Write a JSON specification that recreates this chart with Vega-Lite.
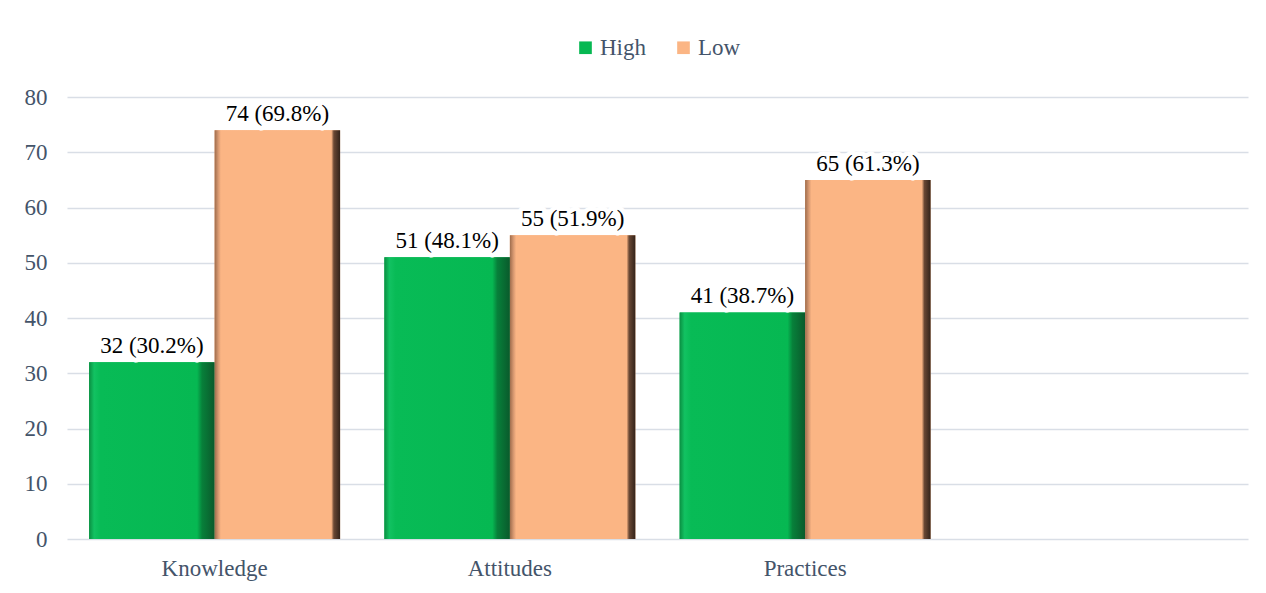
{
  "$schema": "https://vega.github.io/schema/vega-lite/v6.json",
  "autosize": {"type": "fit", "contains": "padding"},
  "width": 1266,
  "height": 593,
  "padding": {"left": 24, "top": 36, "right": 18, "bottom": 13},
  "background": "white",
  "data": {
    "values": [
      {"domain": "Knowledge", "level": "High", "count": 32, "label": "32 (30.2%)"},
      {"domain": "Knowledge", "level": "Low", "count": 74, "label": "74 (69.8%)"},
      {"domain": "Attitudes", "level": "High", "count": 51, "label": "51 (48.1%)"},
      {"domain": "Attitudes", "level": "Low", "count": 55, "label": "55 (51.9%)"},
      {"domain": "Practices", "level": "High", "count": 41, "label": "41 (38.7%)"},
      {"domain": "Practices", "level": "Low", "count": 65, "label": "65 (61.3%)"}
    ]
  },
  "encoding": {
    "x": {
      "field": "domain",
      "type": "nominal",
      "sort": null,
      "scale": {"domain": ["Knowledge", "Attitudes", "Practices", " "], "paddingInner": 0.15, "paddingOuter": 0.075},
      "axis": {"title": null, "labelAngle": 0, "domain": false, "ticks": false, "labelPadding": 18}
    },
    "xOffset": {"field": "level", "type": "nominal", "scale": {"domain": ["High", "Low"], "paddingInner": 0}},
    "y": {
      "field": "count",
      "type": "quantitative",
      "scale": {"domain": [0, 80], "nice": false},
      "axis": {"title": null, "values": [0, 10, 20, 30, 40, 50, 60, 70, 80], "domain": false, "ticks": false, "labelPadding": 20}
    }
  },
  "layer": [
    {
      "mark": {"type": "bar"},
      "encoding": {
        "color": {
          "field": "level",
          "type": "nominal",
          "scale": {"domain": ["High", "Low"], "range": ["#06b852", "#fbb584"]},
          "legend": {
            "title": null,
            "orient": "top",
            "direction": "horizontal",
            "symbolType": "square",
            "symbolSize": 160,
            "symbolStrokeWidth": 0,
            "symbolOpacity": 1,
            "labelFontSize": 23,
            "labelFont": "'Liberation Serif', 'DejaVu Serif', serif",
            "labelColor": "#44546A",
            "columnPadding": 26,
            "labelOffset": 3,
            "offset": 37
          }
        }
      }
    },
    {
      "transform": [{"filter": "datum.level === 'High'"}],
      "mark": {"type": "bar", "color": {"gradient": "linear", "x1": 0, "y1": 0, "x2": 1, "y2": 0, "stops": [
        {"offset": 0, "color": "#0a8f42"},
        {"offset": 0.04, "color": "#12c262"},
        {"offset": 0.09, "color": "#08bb56"},
        {"offset": 0.86, "color": "#06b852"},
        {"offset": 0.9, "color": "#07803a"},
        {"offset": 1, "color": "#0a5a2c"}
      ]}}
    },
    {
      "transform": [{"filter": "datum.level === 'Low'"}],
      "mark": {"type": "bar", "color": {"gradient": "linear", "x1": 0, "y1": 0, "x2": 1, "y2": 0, "stops": [
        {"offset": 0, "color": "#9e6c4c"},
        {"offset": 0.03, "color": "#d99a72"},
        {"offset": 0.05, "color": "#fbb584"},
        {"offset": 0.93, "color": "#fbb584"},
        {"offset": 0.95, "color": "#6a4834"},
        {"offset": 1, "color": "#33231a"}
      ]}}
    },
    {
      "mark": {"type": "text", "baseline": "alphabetic", "dy": -9, "font": "'Liberation Serif', 'DejaVu Serif', serif", "fontSize": 23, "stroke": "white", "strokeWidth": 9, "strokeJoin": "round", "fill": "white"},
      "encoding": {"text": {"field": "label"}}
    },
    {
      "mark": {"type": "text", "baseline": "alphabetic", "dy": -9, "font": "'Liberation Serif', 'DejaVu Serif', serif", "fontSize": 23, "color": "black"},
      "encoding": {"text": {"field": "label"}}
    }
  ],
  "config": {
    "view": {"stroke": null},
    "font": "'Liberation Serif', 'DejaVu Serif', serif",
    "axis": {
      "labelFont": "'Liberation Serif', 'DejaVu Serif', serif",
      "labelFontSize": 23,
      "labelColor": "#44546A",
      "gridColor": "#D9DEE6",
      "gridWidth": 1.3
    },
    "axisX": {"grid": false},
    "legend": {"layout": {"top": {"anchor": "middle"}}}
  }
}
